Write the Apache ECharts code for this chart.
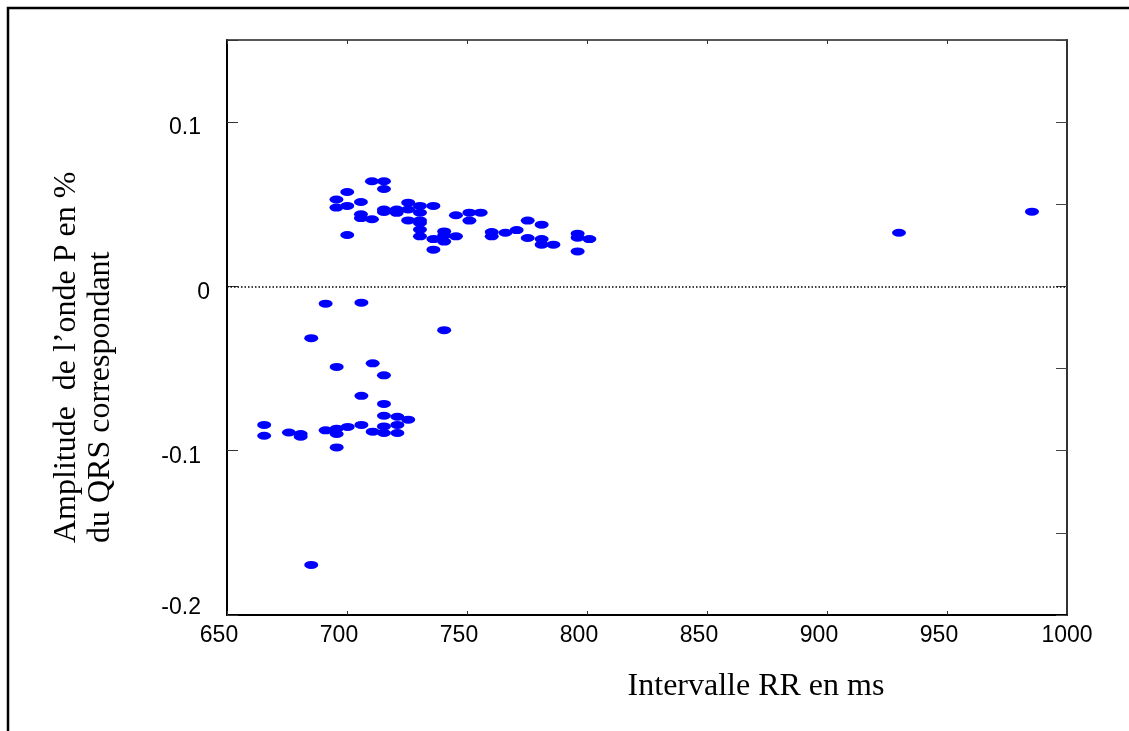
<!DOCTYPE html>
<html>
<head>
<meta charset="utf-8">
<script src="https://cdn.jsdelivr.net/npm/echarts@6/dist/echarts.min.js"></script>
<style>
html,body{margin:0;padding:0;background:#fff;}
#chart{width:1129px;height:731px;}
</style>
</head>
<body>
<div id="chart"></div>
<script>
// RR interval (ms) and P-wave amplitude (% of QRS) — positive group
var rrUpper = [695.6, 695.6, 700.1, 700.1, 700.1, 705.8, 705.8, 705.8, 710.4, 710.4,
  715.4, 715.4, 715.4, 715.4, 720.7, 720.7, 725.5, 725.5, 725.5, 730.4,
  730.4, 730.4, 730.4, 730.4, 730.4, 736.0, 736.0, 736.0, 740.5, 740.5,
  740.5, 745.4, 745.4, 751.0, 751.0, 755.7, 760.3, 760.3, 766.0, 770.7,
  775.3, 775.3, 781.1, 781.1, 781.1, 786.0, 796.1, 796.1, 796.1, 801.0,
  930.0, 985.4];
var ampUpper = [0.0529, 0.0480, 0.0575, 0.0490, 0.0313, 0.0514, 0.0439, 0.0416, 0.0640, 0.0409,
  0.0640, 0.0593, 0.0468, 0.0453, 0.0468, 0.0448, 0.0510, 0.0468, 0.0402, 0.0490,
  0.0449, 0.0402, 0.0386, 0.0346, 0.0305, 0.0490, 0.0288, 0.0224, 0.0335, 0.0311,
  0.0273, 0.0433, 0.0305, 0.0449, 0.0401, 0.0449, 0.0331, 0.0305, 0.0327, 0.0343,
  0.0401, 0.0295, 0.0376, 0.0288, 0.0254, 0.0254, 0.0321, 0.0297, 0.0213, 0.0288,
  0.0327, 0.0455];
// negative group
var rrLower = [665.5, 665.5, 675.8, 680.7, 680.7, 685.1, 685.1, 691.1, 691.1, 695.7,
  695.7, 695.7, 695.7, 700.3, 706.0, 706.0, 706.0, 710.7, 710.7, 715.4,
  715.4, 715.4, 715.4, 715.4, 721.0, 721.0, 721.0, 725.5, 740.5];
var ampLower = [-0.0843, -0.0909, -0.0889, -0.0898, -0.0915, -0.0315, -0.1695, -0.0105, -0.0876, -0.0490,
  -0.0866, -0.0898, -0.0980, -0.0855, -0.0099, -0.0666, -0.0843, -0.0468, -0.0884, -0.0541,
  -0.0715, -0.0787, -0.0852, -0.0892, -0.0793, -0.0843, -0.0892, -0.0811, -0.0266];

var xTicks = [650, 700, 750, 800, 850, 900, 950, 1000];
var yTickLabels = ['-0.2', '-0.1', '0', '0.1'];
var xTitle = 'Intervalle RR en ms';
var yTitle = 'Amplitude  de l\u2019onde P en %\ndu QRS correspondant';

var points = [];
rrUpper.forEach(function (x, i) { points.push([x, ampUpper[i]]); });
rrLower.forEach(function (x, i) { points.push([x, ampLower[i]]); });

var chart = echarts.init(document.getElementById('chart'), null, {renderer: 'canvas'});
var sans = '"Liberation Sans", Arial, sans-serif';
var serif = '"Liberation Serif", "Times New Roman", serif';
var fs = 23;

chart.setOption({
  animation: false,
  backgroundColor: '#fff',
  grid: {left: 227, top: 40, right: 62, bottom: 116, containLabel: false},
  xAxis: [{
    type: 'value', position: 'bottom', min: xTicks[0], max: xTicks[xTicks.length - 1], interval: 50,
    axisLine: {show: true, onZero: false, lineStyle: {color: '#000', width: 2}},
    axisTick: {show: true, inside: true, length: 4, lineStyle: {color: '#333', width: 1}},
    splitLine: {show: false},
    axisLabel: {
      margin: 9, color: '#000', fontFamily: sans, fontSize: fs,
      formatter: function (v) {
        var s = String(Math.round(v));
        if (Math.round(v) === 1000) return '{c|' + s + '}';
        return '{a|' + s + '}';
      },
      rich: {
        a: {fontFamily: sans, fontSize: fs, color: '#000', padding: [0, 16, 0, 0]},
        c: {fontFamily: sans, fontSize: fs, color: '#000'}
      }
    }
  }, {
    type: 'value', position: 'top', min: 650, max: 1000, interval: 50,
    axisLine: {show: true, onZero: false, lineStyle: {color: '#222', width: 1.5}},
    axisTick: {show: true, inside: true, length: 4, lineStyle: {color: '#333', width: 1}},
    axisLabel: {show: false}, splitLine: {show: false}
  }],
  yAxis: [{
    type: 'value', position: 'left', min: -0.2, max: 0.15, interval: 0.1,
    axisLine: {show: true, onZero: false, lineStyle: {color: '#000', width: 2}},
    axisTick: {show: true, inside: true, length: 11, lineStyle: {color: '#333', width: 1}},
    splitLine: {show: false},
    axisLabel: {
      margin: 17, color: '#000', fontFamily: sans, fontSize: fs,
      formatter: function (v) {
        var r = Math.round(v * 10) / 10;
        if (Math.abs(v - r) > 1e-6) return '';
        var s = yTickLabels[Math.round(r * 10) + 2];
        if (s === undefined) return '';
        if (s === '0') return '{z|' + s + '}';
        if (s === '-0.2') return '{b|' + s + '}';
        return '{a|' + s + '}';
      },
      rich: {
        a: {fontFamily: sans, fontSize: fs, color: '#000', padding: [12, 9, 0, 0]},
        z: {fontFamily: sans, fontSize: fs, color: '#000', padding: [12, 0, 0, 0]},
        b: {fontFamily: sans, fontSize: fs, color: '#000', padding: [0, 9, 14, 0]}
      }
    }
  }, {
    type: 'value', position: 'right', min: -0.2, max: 0.15, interval: 0.05,
    axisLine: {show: true, onZero: false, lineStyle: {color: '#333', width: 2}},
    axisTick: {show: true, inside: true, length: 11, lineStyle: {color: '#444', width: 1}},
    axisLabel: {show: false}, splitLine: {show: false}
  }],
  series: [{
    type: 'scatter',
    xAxisIndex: 0, yAxisIndex: 0,
    data: points,
    symbol: 'circle',
    symbolSize: [14, 8],
    itemStyle: {color: '#0000FF', opacity: 1},
    markLine: {
      silent: true, symbol: ['none', 'none'], label: {show: false},
      lineStyle: {color: '#000', type: [1.5, 2], width: 1.5, opacity: 1},
      data: [{yAxis: 0}]
    },
    z: 3
  }],
  graphic: [{
    type: 'rect', silent: true, z: -1,
    shape: {x: 8, y: 8, width: 1300, height: 900},
    style: {fill: 'none', stroke: '#000', lineWidth: 2.5}
  }, {
    type: 'text', silent: true,
    x: 756, y: 687,
    style: {text: xTitle, fontFamily: serif, fontSize: 32, fill: '#000',
      align: 'center', verticalAlign: 'middle', textAlign: 'center', textVerticalAlign: 'middle'}
  }, {
    type: 'text', silent: true,
    x: 84, y: 543, rotation: Math.PI / 2,
    style: {text: yTitle, fontFamily: serif, fontSize: 32, lineHeight: 34, fill: '#000',
      align: 'left', verticalAlign: 'middle', textAlign: 'left', textVerticalAlign: 'middle'}
  }]
});
</script>
</body>
</html>
